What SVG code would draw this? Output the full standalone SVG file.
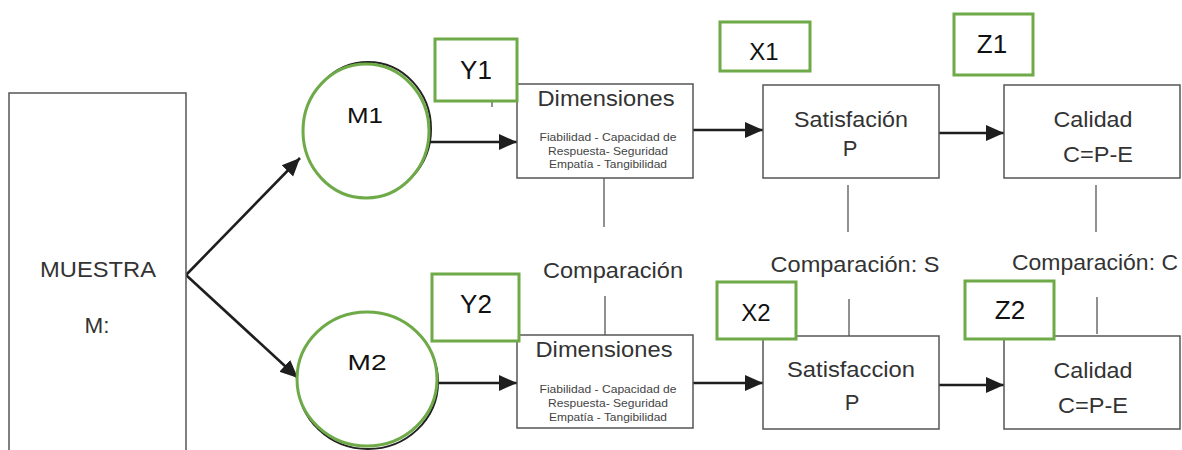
<svg xmlns="http://www.w3.org/2000/svg" width="1182" height="450" viewBox="0 0 1182 450">
  <defs>
    <marker id="head" markerUnits="userSpaceOnUse" markerWidth="18" markerHeight="18" viewBox="0 0 18 18" refX="18" refY="9" orient="auto">
      <path d="M0,1 L18,9 L0,17 Z" fill="#1e1e1e"/>
    </marker>
  </defs>
  <style>
    text { font-family: "Liberation Sans", Arial, sans-serif; fill: #333; }
    .box { fill: #fff; stroke: #555; stroke-width: 1.5; }
    .tag { fill: #fff; stroke: #6eaa47; stroke-width: 3; }
    .tagtxt { font-size: 26px; fill: #111; text-anchor: middle; }
    .title { font-size: 22px; text-anchor: middle; }
    .small { font-size: 11.5px; text-anchor: middle; fill: #444; }
    .arrow { stroke: #1e1e1e; stroke-width: 2.6; fill: none; marker-end: url(#head); }
    .link { stroke: #555; stroke-width: 1.3; fill: none; }
    .ring { fill: #fff; stroke: #6eaa47; stroke-width: 3; }
    .ringshade { fill: none; stroke: #222; stroke-width: 2; }
  </style>

  <rect x="0" y="0" width="1182" height="450" fill="#fff"/>

  <!-- connectors -->
  <g id="connectors">
    <path class="arrow" d="M186,275 L300,158"/>
    <path class="arrow" d="M186,275 L298,378"/>
    <path class="arrow" d="M430,142 L517,142"/>
    <path class="arrow" d="M437,383 L517,383"/>
    <path class="arrow" d="M693,130 L763,130"/>
    <path class="arrow" d="M939,133 L1004,133"/>
    <path class="arrow" d="M693,383 L763,383"/>
    <path class="arrow" d="M939,385 L1004,385"/>
    <path class="link" d="M492,100 L492,107"/>
    <path class="link" d="M604,178 L604,227"/>
    <path class="link" d="M605,296 L605,335"/>
    <path class="link" d="M848,185 L848,232"/>
    <path class="link" d="M849,299 L849,336"/>
    <path class="link" d="M1096,185 L1096,232"/>
    <path class="link" d="M1097,297 L1097,334"/>
  </g>

  <!-- comparison labels -->
  <g id="comparisons">
    <text class="title" x="613" y="278" textLength="140" lengthAdjust="spacingAndGlyphs">Comparación</text>
    <text class="title" x="855" y="272" textLength="169" lengthAdjust="spacingAndGlyphs">Comparación: S</text>
    <text class="title" x="1095" y="270" textLength="166" lengthAdjust="spacingAndGlyphs">Comparación: C</text>
  </g>

  <!-- sample -->
  <g id="muestra">
    <rect class="box" x="9" y="93" width="177" height="370"/>
    <text class="title" x="98" y="277" textLength="116" lengthAdjust="spacingAndGlyphs">MUESTRA</text>
    <text class="title" x="97" y="333" textLength="25" lengthAdjust="spacingAndGlyphs">M:</text>
  </g>

  <!-- groups M1 / M2 -->
  <g id="m1">
    <ellipse class="ringshade" cx="368" cy="129" rx="63" ry="67"/>
    <ellipse class="ring" cx="366" cy="131" rx="63" ry="67"/>
    <text class="title" x="365" y="123" textLength="36" lengthAdjust="spacingAndGlyphs" style="fill:#111">M1</text>
  </g>
  <g id="m2">
    <ellipse class="ringshade" cx="368" cy="382" rx="70" ry="67"/>
    <ellipse class="ring" cx="367" cy="379" rx="70" ry="67"/>
    <text class="title" x="367" y="370" textLength="39" lengthAdjust="spacingAndGlyphs" style="fill:#111">M2</text>
  </g>

  <!-- dimensions -->
  <g id="dim1">
    <rect class="box" x="517" y="84" width="176" height="94"/>
    <text class="title" x="606" y="106" textLength="137" lengthAdjust="spacingAndGlyphs">Dimensiones</text>
    <text class="small" x="608" y="141" textLength="137" lengthAdjust="spacingAndGlyphs">Fiabilidad - Capacidad de</text>
    <text class="small" x="608" y="155" textLength="120" lengthAdjust="spacingAndGlyphs">Respuesta- Seguridad</text>
    <text class="small" x="608" y="168" textLength="118" lengthAdjust="spacingAndGlyphs">Empatía - Tangibilidad</text>
  </g>
  <g id="dim2">
    <rect class="box" x="517" y="335" width="176" height="93"/>
    <text class="title" x="604" y="357" textLength="137" lengthAdjust="spacingAndGlyphs">Dimensiones</text>
    <text class="small" x="608" y="393" textLength="137" lengthAdjust="spacingAndGlyphs">Fiabilidad - Capacidad de</text>
    <text class="small" x="608" y="407" textLength="120" lengthAdjust="spacingAndGlyphs">Respuesta- Seguridad</text>
    <text class="small" x="608" y="421" textLength="118" lengthAdjust="spacingAndGlyphs">Empatía - Tangibilidad</text>
  </g>

  <!-- satisfaction -->
  <g id="sat1">
    <rect class="box" x="763" y="85" width="176" height="93"/>
    <text class="title" x="851" y="127" textLength="114" lengthAdjust="spacingAndGlyphs">Satisfación</text>
    <text class="title" x="850" y="156">P</text>
  </g>
  <g id="sat2">
    <rect class="box" x="763" y="336" width="176" height="93"/>
    <text class="title" x="851" y="377" textLength="128" lengthAdjust="spacingAndGlyphs">Satisfaccion</text>
    <text class="title" x="852" y="410">P</text>
  </g>

  <!-- quality -->
  <g id="cal1">
    <rect class="box" x="1004" y="85" width="176" height="93"/>
    <text class="title" x="1093" y="127" textLength="79" lengthAdjust="spacingAndGlyphs">Calidad</text>
    <text class="title" x="1098" y="162" textLength="70" lengthAdjust="spacingAndGlyphs">C=P-E</text>
  </g>
  <g id="cal2">
    <rect class="box" x="1004" y="336" width="176" height="93"/>
    <text class="title" x="1093" y="378" textLength="79" lengthAdjust="spacingAndGlyphs">Calidad</text>
    <text class="title" x="1093" y="413" textLength="70" lengthAdjust="spacingAndGlyphs">C=P-E</text>
  </g>

  <!-- variable tags -->
  <g id="y1">
    <rect class="tag" x="435" y="39" width="82" height="62"/>
    <text class="tagtxt" x="476" y="79">Y1</text>
  </g>
  <g id="y2">
    <rect class="tag" x="432" y="274" width="87" height="67"/>
    <text class="tagtxt" x="476" y="313">Y2</text>
  </g>
  <g id="x1">
    <rect class="tag" x="720" y="22" width="90" height="49"/>
    <text class="tagtxt" x="764" y="60" style="font-size:24px">X1</text>
  </g>
  <g id="x2">
    <rect class="tag" x="717" y="282" width="79" height="57"/>
    <text class="tagtxt" x="756" y="321" style="font-size:24px">X2</text>
  </g>
  <g id="z1">
    <rect class="tag" x="954" y="14" width="79" height="61"/>
    <text class="tagtxt" x="992" y="53">Z1</text>
  </g>
  <g id="z2">
    <rect class="tag" x="965" y="281" width="89" height="58"/>
    <text class="tagtxt" x="1010" y="319">Z2</text>
  </g>
</svg>
